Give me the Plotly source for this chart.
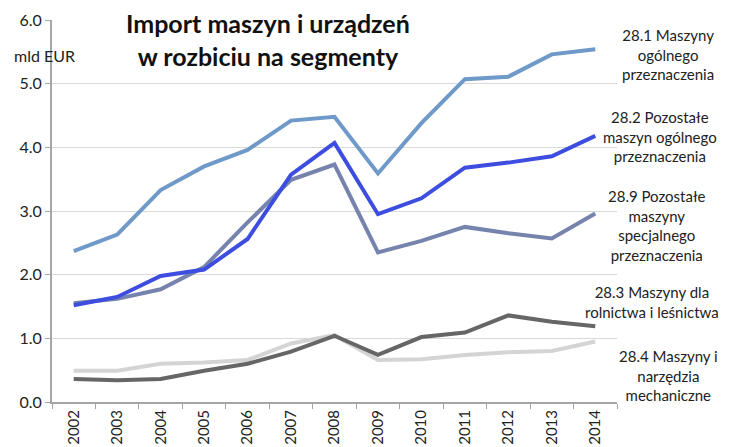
import plotly.graph_objects as go

years = ["2002", "2003", "2004", "2005", "2006", "2007", "2008", "2009", "2010", "2011", "2012", "2013", "2014"]

s281 = [2.37, 2.63, 3.33, 3.70, 3.96, 4.42, 4.48, 3.59, 4.38, 5.07, 5.11, 5.46, 5.54]
s282 = [1.52, 1.65, 1.98, 2.08, 2.56, 3.57, 4.07, 2.95, 3.20, 3.68, 3.76, 3.86, 4.18]
s289 = [1.55, 1.62, 1.77, 2.12, 2.82, 3.49, 3.73, 2.35, 2.53, 2.75, 2.65, 2.57, 2.96]
s283 = [0.36, 0.34, 0.36, 0.49, 0.60, 0.79, 1.04, 0.74, 1.02, 1.09, 1.36, 1.26, 1.19]
s284 = [0.49, 0.49, 0.60, 0.62, 0.66, 0.92, 1.05, 0.66, 0.67, 0.74, 0.78, 0.80, 0.95]

names = [
    "28.1 Maszyny<br>ogólnego<br>przeznaczenia",
    "28.2 Pozostałe<br>maszyn ogólnego<br>przeznaczenia",
    "28.9 Pozostałe<br>maszyny<br>specjalnego<br>przeznaczenia",
    "28.3 Maszyny dla<br>rolnictwa i leśnictwa",
    "28.4 Maszyny i<br>narzędzia<br>mechaniczne",
]
colors = ["#6e99c8", "#3d4de0", "#7583ad", "#666666", "#d4d4d4"]
series = [s281, s282, s289, s283, s284]

FONT = "Lato"
W, H = 729, 447
L, R, T, B = 52, 112, 20, 45
pw = W - L - R
ph = H - T - B

def px(x):
    return (x - L) / pw

def py(y):
    return 1 - (y - T) / ph

fig = go.Figure()
order = [4, 3, 2, 0, 1]
for i in order:
    fig.add_trace(go.Scatter(
        x=years, y=series[i], mode="lines",
        line=dict(color=colors[i], width=4),
        name=names[i], showlegend=False,
    ))

label_pos = [(668, 54), (660, 136), (657, 225), (652, 302), (668, 375)]
for (lx, ly), n in zip(label_pos, names):
    fig.add_annotation(
        x=px(lx), y=py(ly), xref="paper", yref="paper",
        text=n, showarrow=False, xanchor="center", yanchor="middle",
        align="center", font=dict(family=FONT, size=15, color="#222222"),
    )

fig.add_annotation(
    x=px(268), y=py(40), xref="paper", yref="paper",
    text="<b>Import maszyn i urządzeń<br>w rozbiciu na segmenty</b>",
    showarrow=False, xanchor="center", yanchor="middle", align="center",
    font=dict(family=FONT, size=25, color="#111111"),
    bgcolor="white", borderpad=2,
)

fig.add_annotation(
    x=px(12), y=py(55), xref="paper", yref="paper",
    text="mld EUR", showarrow=False, xanchor="left", yanchor="middle",
    font=dict(family=FONT, size=16, color="#222222"),
)

fig.update_layout(
    width=W, height=H,
    margin=dict(l=L, r=R, t=T, b=B),
    paper_bgcolor="white", plot_bgcolor="white",
    font=dict(family=FONT, size=15, color="#222222"),
    xaxis=dict(
        type="category", tickangle=-90, showline=True, linecolor="#a6a6a6",
        linewidth=2, ticks="outside", tickson="boundaries", ticklen=5,
        tickcolor="#a6a6a6", showgrid=False, automargin=False,
        tickfont=dict(family=FONT, size=15, color="#222222"),
        range=[-0.5, 12.5],
    ),
    yaxis=dict(
        range=[0, 6], tickvals=[0, 1, 2, 3, 4, 5, 6],
        ticktext=["0.0", "1.0", "2.0", "3.0", "4.0", "5.0", "6.0"],
        showline=True, linecolor="#a6a6a6", linewidth=2, ticks="outside",
        ticklen=5, tickcolor="#a6a6a6", gridcolor="#d9d9d9", gridwidth=1,
        zeroline=False, automargin=False,
        tickfont=dict(family=FONT, size=16, color="#222222"),
    ),
)

fig.write_html(
    "out.html",
    config={"displayModeBar": False},
    post_script="document.body.style.margin='0px';document.body.style.overflow='hidden';",
)
